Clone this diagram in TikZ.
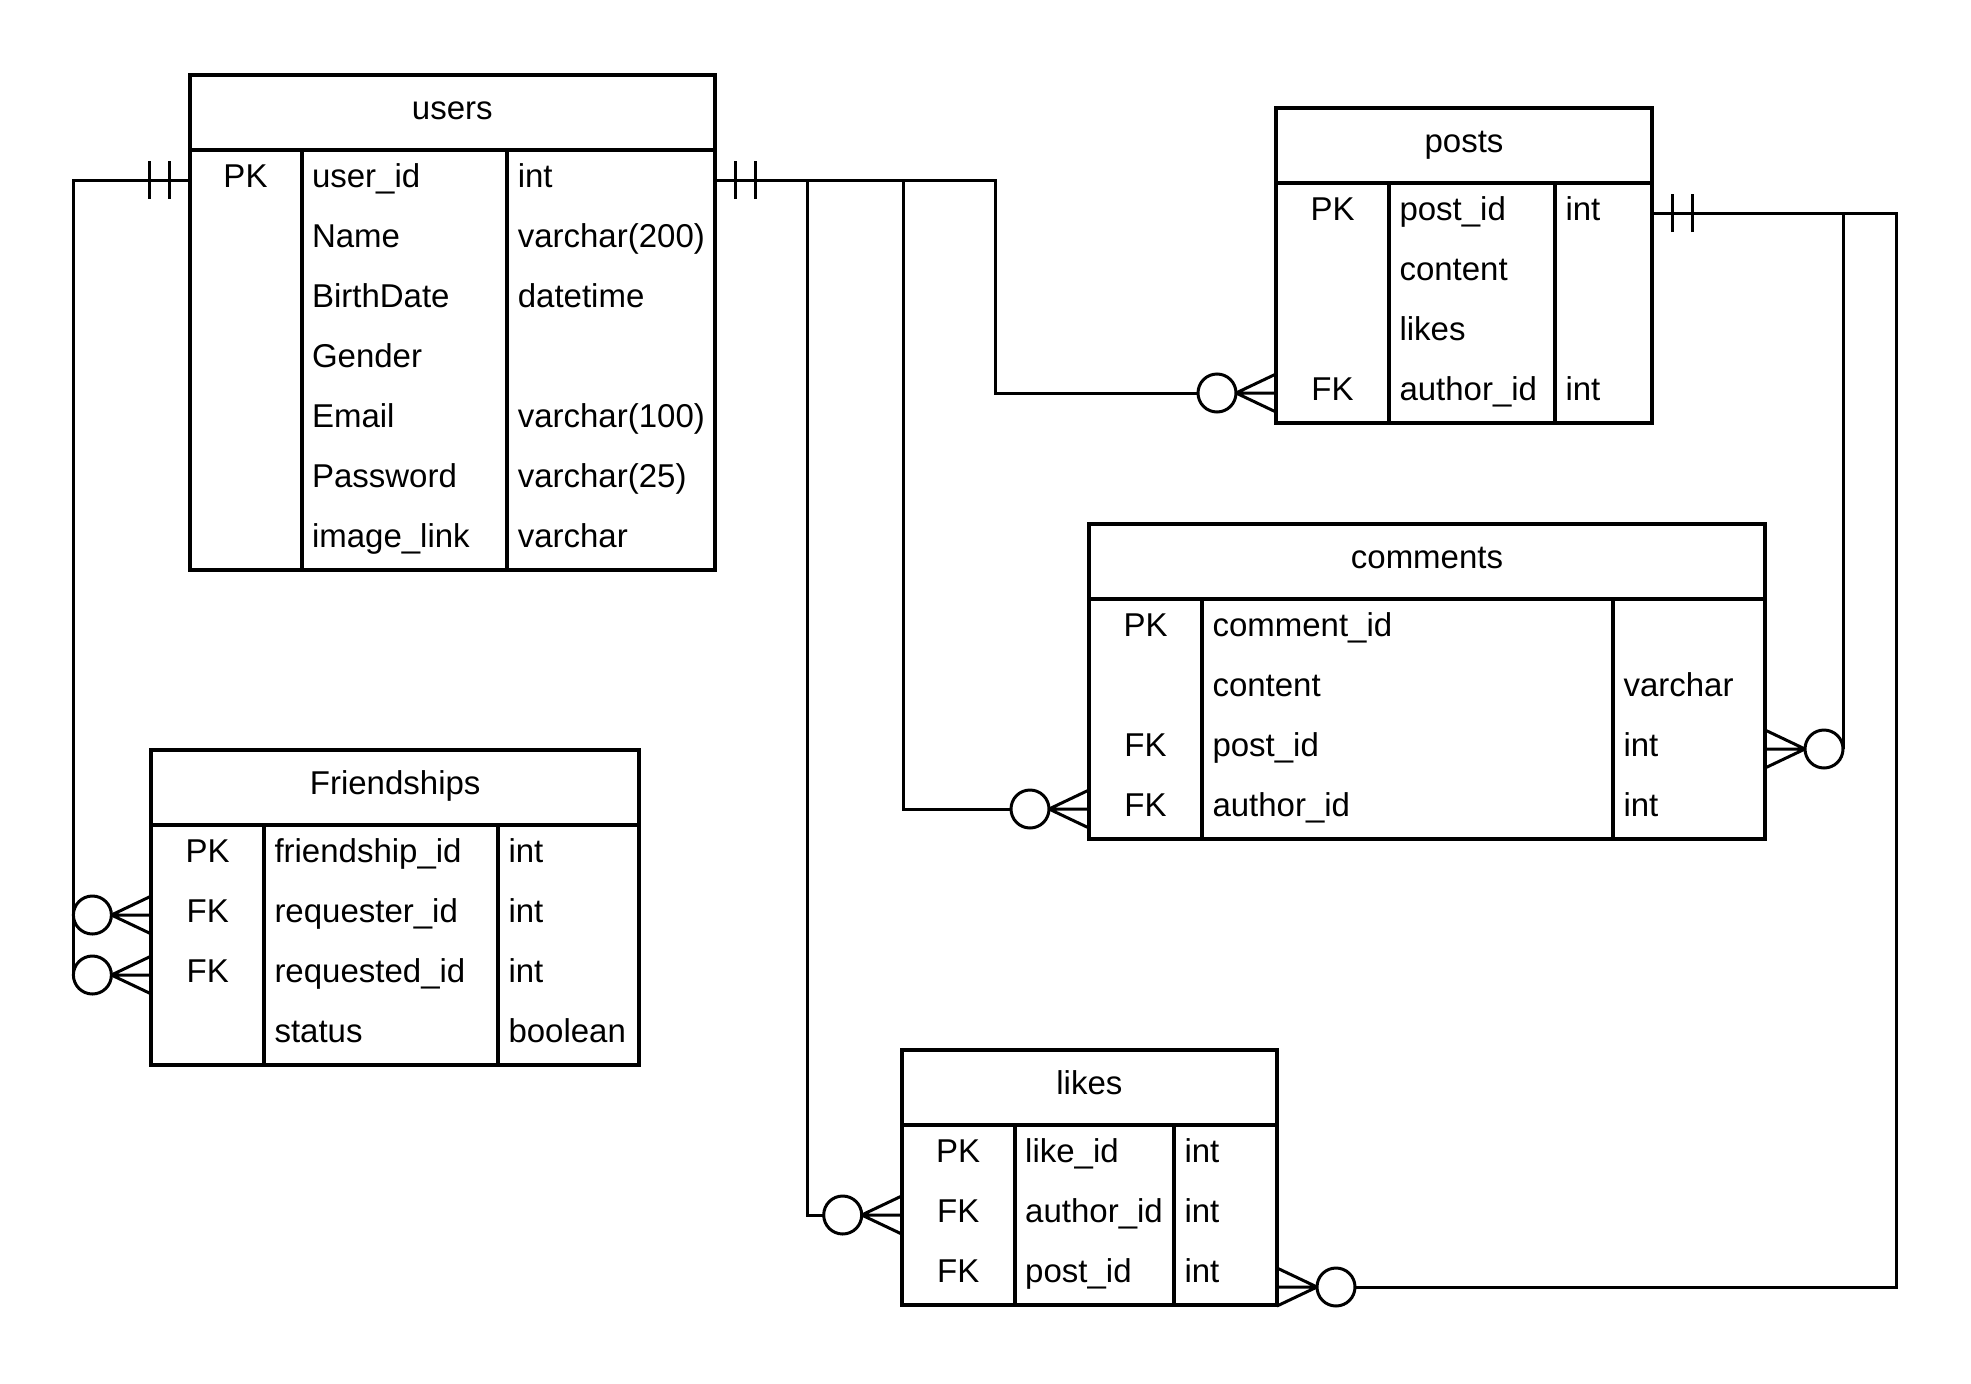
\documentclass[tikz,border=0pt]{standalone}
\usepackage{fontspec}
\setmainfont{Liberation Sans}
\usetikzlibrary{calc}

\begin{document}
\begin{tikzpicture}[x=1pt,y=-1pt,line width=3pt,font=\fontsize{33}{40}\selectfont]
\tikzstyle{head}=[draw,line width=4pt,inner sep=0,outer sep=0,minimum height=75pt,text height=22pt,text depth=8pt]
\tikzstyle{body}=[draw,line width=4pt,inner sep=0,outer sep=0,anchor=north]
\tikzstyle{col}=[line width=4pt]
\tikzstyle{row}=[inner sep=0,outer sep=0,minimum height=60pt]
\tikzstyle{cell}=[inner sep=0,text height=22pt,text depth=8pt]
\tikzstyle{fld}=[cell,anchor=west]
\tikzset{
  onlyone/.pic={\draw (-20,-19) -- (-20,19) (-40,-19) -- (-40,19);},
  zeromany/.pic={\draw (0,-19) -- (-40,0) -- (0,19) (-40,0) -- (0,0);
    \draw[fill=white] (-59,0) circle (19pt);}
}
\useasboundingbox (0,0) rectangle (1971,1384);

% users
\node[head,minimum width=525.5pt] (users) at (452.25,112.5) {users};
\node[body,minimum width=525.5pt,minimum height=420pt] (users-b) at (users.south) {};
\draw[col] ([xshift=112pt]users-b.north west) -- ([xshift=112pt]users-b.south west)
      ([xshift=317.8pt]users-b.north west) -- ([xshift=317.8pt]users-b.south west);
\foreach \k/\n/\t [count=\i] in {PK/user\_id/int, {}/Name/varchar(200), {}/BirthDate/datetime, {}/Gender/{}, {}/Email/varchar(100), {}/Password/varchar(25), {}/image\_link/varchar} {
  \node[row,minimum width=525.5pt] (users-\i) at ($(users-b.north)+(0,{60*\i-30})$) {};
  \node[cell] (users-k\i) at ([xshift=56pt]users-\i.west) {\k};
  \node[fld] (users-n\i) at ([xshift=121pt]users-\i.west) {\n};
  \node[fld] (users-t\i) at ([xshift=326.8pt]users-\i.west) {\t};
}

% posts
\node[head,minimum width=376pt] (posts) at (1464,145.5) {posts};
\node[body,minimum width=376pt,minimum height=240pt] (posts-b) at (posts.south) {};
\draw[col] ([xshift=113pt]posts-b.north west) -- ([xshift=113pt]posts-b.south west)
      ([xshift=279pt]posts-b.north west) -- ([xshift=279pt]posts-b.south west);
\foreach \k/\n/\t [count=\i] in {PK/post\_id/int, {}/content/{}, {}/likes/{}, FK/author\_id/int} {
  \node[row,minimum width=376pt] (posts-\i) at ($(posts-b.north)+(0,{60*\i-30})$) {};
  \node[cell] (posts-k\i) at ([xshift=56.5pt]posts-\i.west) {\k};
  \node[fld] (posts-n\i) at ([xshift=122pt]posts-\i.west) {\n};
  \node[fld] (posts-t\i) at ([xshift=288pt]posts-\i.west) {\t};
}

% comments
\node[head,minimum width=676pt] (comments) at (1427,561.5) {comments};
\node[body,minimum width=676pt,minimum height=240pt] (comments-b) at (comments.south) {};
\draw[col] ([xshift=113pt]comments-b.north west) -- ([xshift=113pt]comments-b.south west)
      ([xshift=523.5pt]comments-b.north west) -- ([xshift=523.5pt]comments-b.south west);
\foreach \k/\n/\t [count=\i] in {PK/comment\_id/{}, {}/content/varchar, FK/post\_id/int, FK/author\_id/int} {
  \node[row,minimum width=676pt] (comments-\i) at ($(comments-b.north)+(0,{60*\i-30})$) {};
  \node[cell] (comments-k\i) at ([xshift=56.5pt]comments-\i.west) {\k};
  \node[fld] (comments-n\i) at ([xshift=122pt]comments-\i.west) {\n};
  \node[fld] (comments-t\i) at ([xshift=533pt]comments-\i.west) {\t};
}

% Friendships
\node[head,minimum width=487.6pt] (fr) at (395.2,787.5) {Friendships};
\node[body,minimum width=487.6pt,minimum height=240pt] (fr-b) at (fr.south) {};
\draw[col] ([xshift=112.6pt]fr-b.north west) -- ([xshift=112.6pt]fr-b.south west)
      ([xshift=346.6pt]fr-b.north west) -- ([xshift=346.6pt]fr-b.south west);
\foreach \k/\n/\t [count=\i] in {PK/friendship\_id/int, FK/requester\_id/int, FK/requested\_id/int, {}/status/boolean} {
  \node[row,minimum width=487.6pt] (fr-\i) at ($(fr-b.north)+(0,{60*\i-30})$) {};
  \node[cell] (fr-k\i) at ([xshift=56.3pt]fr-\i.west) {\k};
  \node[fld] (fr-n\i) at ([xshift=121.6pt]fr-\i.west) {\n};
  \node[fld] (fr-t\i) at ([xshift=355.6pt]fr-\i.west) {\t};
}

% likes
\node[head,minimum width=375.3pt] (likes) at (1089.35,1087.5) {likes};
\node[body,minimum width=375.3pt,minimum height=180pt] (likes-b) at (likes.south) {};
\draw[col] ([xshift=113pt]likes-b.north west) -- ([xshift=113pt]likes-b.south west)
      ([xshift=272.3pt]likes-b.north west) -- ([xshift=272.3pt]likes-b.south west);
\foreach \k/\n/\t [count=\i] in {PK/like\_id/int, FK/author\_id/int, FK/post\_id/int} {
  \node[row,minimum width=375.3pt] (likes-\i) at ($(likes-b.north)+(0,{60*\i-30})$) {};
  \node[cell] (likes-k\i) at ([xshift=56.5pt]likes-\i.west) {\k};
  \node[fld] (likes-n\i) at ([xshift=122pt]likes-\i.west) {\n};
  \node[fld] (likes-t\i) at ([xshift=281.3pt]likes-\i.west) {\t};
}
\coordinate (likes-in) at ([yshift=-12pt]likes-3.east);

% relations
\draw (users-1.west) -| ([xshift=-78pt]fr-2.west);
\draw (users-1.west) -| ([xshift=-78pt]fr-3.west);
\draw (users-1.east) -- ++(280,0) |- ([xshift=-78pt]posts-4.west);
\draw (users-1.east) -- ++(188,0) |- ([xshift=-78pt]comments-4.west);
\draw (users-1.east) -- ++(92,0) |- ([xshift=-78pt]likes-2.west);
\draw (posts-1.east) -| ([xshift=78pt]comments-3.east);
\draw (posts-1.east) -- ++(244,0) |- ([xshift=78pt]likes-in);

\pic at (users-1.west) {onlyone};
\pic[rotate=180] at (users-1.east) {onlyone};
\pic[rotate=180] at (posts-1.east) {onlyone};
\foreach \p in {fr-2.west, fr-3.west, posts-4.west, comments-4.west, likes-2.west}
  \pic at (\p) {zeromany};
\pic[rotate=180] at (comments-3.east) {zeromany};
\pic[rotate=180] at (likes-in) {zeromany};
\end{tikzpicture}
\end{document}
